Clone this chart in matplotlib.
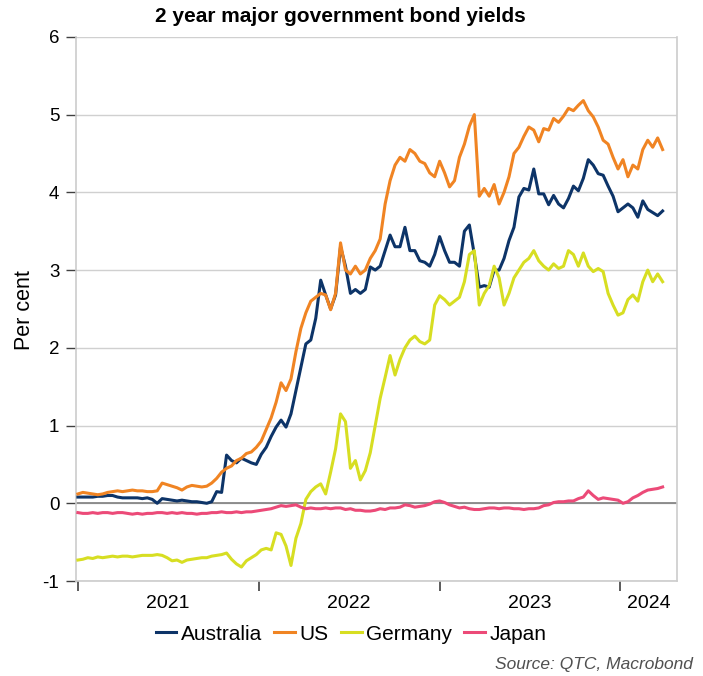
import numpy as np
import pandas as pd
import matplotlib
matplotlib.use("Agg")
import matplotlib.pyplot as plt

plt.rcParams['font.family'] = ['Liberation Sans', 'DejaVu Sans']
plt.rcParams['axes.unicode_minus'] = False

# 10-day observations from 1 Jan 2021
dates = pd.date_range('2021-01-01', periods=119, freq='10D')

australia = [
    0.08, 0.08, 0.08, 0.08, 0.09, 0.09, 0.10, 0.10, 0.08, 0.07,
    0.07, 0.07, 0.07, 0.06, 0.07, 0.05, 0.00, 0.06, 0.05, 0.04,
    0.03, 0.04, 0.03, 0.02, 0.02, 0.01, 0.00, 0.02, 0.15, 0.14,
    0.62, 0.55, 0.52, 0.58, 0.55, 0.52, 0.50, 0.63, 0.72, 0.86,
    0.98, 1.07, 0.98, 1.15, 1.45, 1.75, 2.05, 2.10, 2.38, 2.87,
    2.68, 2.50, 2.68, 3.30, 3.05, 2.70, 2.75, 2.70, 2.75, 3.04,
    3.00, 3.05, 3.25, 3.45, 3.30, 3.30, 3.55, 3.25, 3.25, 3.12,
    3.10, 3.05, 3.20, 3.43, 3.25, 3.10, 3.10, 3.05, 3.50, 3.58,
    3.20, 2.78, 2.80, 2.78, 3.00, 3.00, 3.15, 3.38, 3.55, 3.94,
    4.05, 4.03, 4.30, 3.98, 3.98, 3.84, 3.96, 3.85, 3.80, 3.92,
    4.08, 4.02, 4.18, 4.42, 4.35, 4.24, 4.22, 4.08, 3.95, 3.75,
    3.80, 3.85, 3.80, 3.68, 3.89, 3.78, 3.74, 3.70, 3.76,
]
us = [
    0.12, 0.14, 0.13, 0.12, 0.11, 0.12, 0.14, 0.15, 0.16, 0.15,
    0.16, 0.17, 0.16, 0.16, 0.15, 0.15, 0.16, 0.26, 0.24, 0.22,
    0.20, 0.17, 0.21, 0.23, 0.22, 0.21, 0.22, 0.26, 0.32, 0.40,
    0.45, 0.48, 0.55, 0.58, 0.64, 0.66, 0.72, 0.80, 0.95, 1.10,
    1.30, 1.55, 1.45, 1.60, 1.95, 2.25, 2.45, 2.60, 2.65, 2.70,
    2.68, 2.49, 2.70, 3.35, 3.00, 2.95, 3.05, 2.95, 3.00, 3.15,
    3.25, 3.40, 3.85, 4.15, 4.35, 4.45, 4.40, 4.55, 4.50, 4.40,
    4.37, 4.25, 4.20, 4.40, 4.25, 4.07, 4.15, 4.45, 4.62, 4.85,
    5.00, 3.95, 4.05, 3.95, 4.10, 3.85, 4.00, 4.20, 4.50, 4.58,
    4.72, 4.84, 4.80, 4.65, 4.82, 4.80, 4.95, 4.90, 4.98, 5.08,
    5.05, 5.12, 5.18, 5.05, 4.97, 4.84, 4.67, 4.62, 4.45, 4.30,
    4.42, 4.20, 4.35, 4.30, 4.55, 4.67, 4.58, 4.70, 4.55,
]
germany = [
    -0.73, -0.72, -0.70, -0.71, -0.69, -0.70, -0.69, -0.68, -0.69, -0.68,
    -0.68, -0.69, -0.68, -0.67, -0.67, -0.67, -0.66, -0.67, -0.70, -0.74,
    -0.73, -0.76, -0.73, -0.72, -0.71, -0.70, -0.70, -0.68, -0.67, -0.66,
    -0.64, -0.72, -0.78, -0.82, -0.74, -0.70, -0.66, -0.60, -0.58, -0.60,
    -0.38, -0.40, -0.55, -0.80, -0.45, -0.26, 0.05, 0.15, 0.21, 0.25,
    0.12, 0.40, 0.70, 1.15, 1.05, 0.45, 0.55, 0.30, 0.42, 0.65,
    1.00, 1.35, 1.62, 1.90, 1.65, 1.85, 2.00, 2.10, 2.15, 2.08,
    2.05, 2.10, 2.55, 2.67, 2.62, 2.55, 2.60, 2.65, 2.85, 3.20,
    3.25, 2.55, 2.70, 2.80, 3.05, 2.90, 2.55, 2.70, 2.90, 3.00,
    3.10, 3.15, 3.25, 3.12, 3.05, 3.00, 3.08, 3.02, 3.05, 3.25,
    3.20, 3.05, 3.22, 3.05, 2.98, 3.02, 2.98, 2.70, 2.55, 2.42,
    2.45, 2.62, 2.68, 2.60, 2.85, 3.00, 2.85, 2.95, 2.85,
]
japan = [
    -0.12, -0.13, -0.13, -0.12, -0.13, -0.12, -0.12, -0.13, -0.12, -0.12,
    -0.13, -0.14, -0.13, -0.14, -0.13, -0.13, -0.12, -0.12, -0.13, -0.12,
    -0.13, -0.12, -0.13, -0.13, -0.14, -0.13, -0.13, -0.12, -0.12, -0.11,
    -0.12, -0.12, -0.11, -0.12, -0.11, -0.11, -0.10, -0.09, -0.08, -0.07,
    -0.05, -0.03, -0.04, -0.03, -0.02, -0.05, -0.07, -0.06, -0.07, -0.07,
    -0.06, -0.07, -0.06, -0.06, -0.08, -0.07, -0.09, -0.09, -0.10, -0.10,
    -0.09, -0.07, -0.08, -0.06, -0.06, -0.05, -0.02, -0.03, -0.05, -0.04,
    -0.03, -0.01, 0.02, 0.03, 0.01, -0.02, -0.04, -0.06, -0.05, -0.07,
    -0.08, -0.08, -0.07, -0.06, -0.06, -0.07, -0.06, -0.06, -0.07, -0.07,
    -0.08, -0.07, -0.07, -0.06, -0.03, -0.02, 0.01, 0.02, 0.02, 0.03,
    0.03, 0.06, 0.08, 0.16, 0.10, 0.05, 0.07, 0.06, 0.05, 0.04,
    0.00, 0.02, 0.07, 0.10, 0.14, 0.17, 0.18, 0.19, 0.21,
]

names = ['Australia', 'US', 'Germany', 'Japan']
colors = ['#0d3468', '#f08423', '#d7de22', '#ec4a78']
years = ['2021', '2022', '2023', '2024']

fig = plt.figure(figsize=(7.03, 6.76), dpi=100)
ax = fig.add_axes([0.108, 0.1405, 0.855, 0.805])

ax.axhline(0, color='#7f7f7f', lw=1.2, zorder=2)
for name, vals, c in zip(names, [australia, us, germany, japan], colors):
    ax.plot(dates, vals, color=c, lw=2.2, label=name, zorder=3)

ax.set_ylim(-1, 6)
ax.set_yticks(range(-1, 7))
ax.yaxis.grid(True, color='#d0d0d0', lw=1.0)
ax.set_axisbelow(True)

ax.set_xlim(pd.Timestamp('2020-12-28'), pd.Timestamp('2024-04-24'))
ax.set_xticks([pd.Timestamp(y + '-01-01') for y in years])
ax.set_xticklabels([])
mid = [pd.Timestamp('2021-07-02'), pd.Timestamp('2022-07-02'),
       pd.Timestamp('2023-07-02'), pd.Timestamp('2024-02-27')]
ax.set_xticks(mid, minor=True)
ax.set_xticklabels(years, minor=True, fontsize=14)
ax.tick_params(axis='x', which='major', length=7, width=1.2, color='#404040', direction='out')
ax.tick_params(axis='x', which='minor', length=0, pad=10)
ax.tick_params(axis='y', length=7, width=1.0, color='#404040', labelsize=13.5, pad=5)

for s in ['left', 'right', 'bottom']:
    ax.spines[s].set_color('#cccccc')
    ax.spines[s].set_linewidth(1.2)
ax.spines['top'].set_visible(False)

fig.text(340 / 703, 1 - 16 / 676, '2 year major government bond yields', ha='center', va='center',
         fontsize=15, fontweight='bold')
fig.text(24 / 703, 1 - 310 / 676, 'Per cent', rotation=90, ha='center', va='center', fontsize=15.5)

fig.legend(loc='center', bbox_to_anchor=(351 / 703, 1 - 634 / 676), ncol=4, frameon=False,
           fontsize=15, handlelength=1.0, handletextpad=0.2, columnspacing=0.6)

fig.text(693 / 703, 1 - 665 / 676, 'Source: QTC, Macrobond', ha='right', va='center',
         fontsize=12.5, style='italic', color='#505050')

fig.savefig('out.png', dpi=100)
